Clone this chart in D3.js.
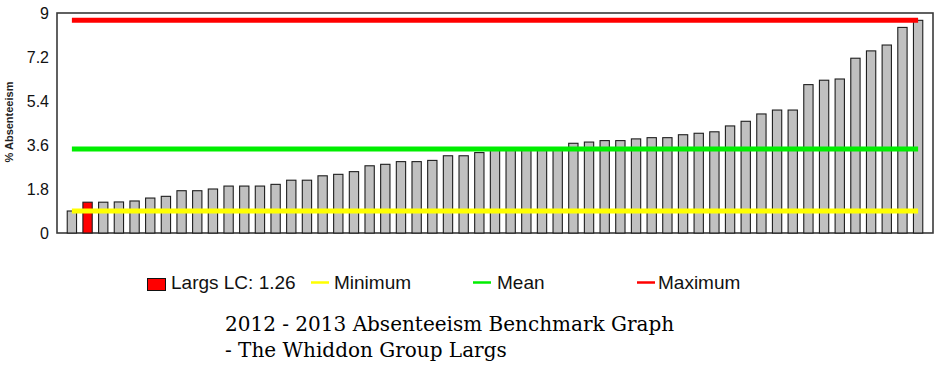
<!DOCTYPE html>
<html>
<head>
<meta charset="utf-8">
<script src="https://cdn.jsdelivr.net/npm/d3@7"></script>
<style>
  html, body { margin: 0; padding: 0; background: #fff; }
  svg { display: block; }
</style>
</head>
<body>
<svg id="chart" width="944" height="365"></svg>
<script>
// ---- data ----
const categories = d3.range(1, 56).map(i => "Org " + i);
const values = [
  0.90, 1.26, 1.26, 1.27, 1.31, 1.43, 1.50, 1.73, 1.73, 1.80,
  1.92, 1.92, 1.92, 1.99, 2.16, 2.16, 2.34, 2.40, 2.51, 2.75,
  2.81, 2.92, 2.92, 2.97, 3.16, 3.16, 3.29, 3.40, 3.42, 3.44,
  3.46, 3.48, 3.67, 3.72, 3.78, 3.78, 3.85, 3.90, 3.90, 4.02,
  4.08, 4.14, 4.38, 4.57, 4.87, 5.03, 5.03, 6.07, 6.25, 6.30,
  7.15, 7.45, 7.69, 8.41, 8.70
];
const highlightIndex = 1;           // Largs LC
const highlightLabel = "Largs LC: 1.26";
const minimumValue = 0.90;
const meanValue = 3.44;
const maximumValue = 8.70;
const yTicks = [0, 1.8, 3.6, 5.4, 7.2, 9];
const yLabel = "% Absenteeism";
const legendLabels = ["Minimum", "Mean", "Maximum"];
const titleLines = ["2012 - 2013 Absenteeism Benchmark Graph", "- The Whiddon Group Largs"];

// ---- layout ----
const svg = d3.select("#chart");
const plot = { left: 57, right: 933, top: 13, bottom: 233 };

const x = d3.scaleBand()
  .domain(categories)
  .range([plot.left, plot.right])
  .paddingInner(0.406)
  .paddingOuter(0.653);

const y = d3.scaleLinear().domain([0, 9]).range([plot.bottom, plot.top]);

// frame
svg.append("rect")
  .attr("x", plot.left).attr("y", plot.top)
  .attr("width", plot.right - plot.left).attr("height", plot.bottom - plot.top)
  .attr("fill", "none").attr("stroke", "#3a3a3a").attr("stroke-width", 1.6);

// bars
svg.append("g").selectAll("rect")
  .data(values)
  .join("rect")
  .attr("x", (d, i) => x(categories[i]))
  .attr("y", d => y(d))
  .attr("width", x.bandwidth())
  .attr("height", d => y(0) - y(d))
  .attr("fill", (d, i) => i === highlightIndex ? "#ff0000" : "#c0c0c0")
  .attr("stroke", "#1e1e1e")
  .attr("stroke-width", 1.1);

// reference lines
const x0 = x(categories[0]) + x.bandwidth() / 2;
const x1 = x(categories[categories.length - 1]) + x.bandwidth() / 2;
const refLines = [
  { v: minimumValue, color: "#ffff00" },
  { v: meanValue, color: "#00ee00" },
  { v: maximumValue, color: "#ff0000" }
];
svg.append("g").selectAll("line")
  .data(refLines)
  .join("line")
  .attr("x1", x0).attr("x2", x1)
  .attr("y1", d => y(d.v)).attr("y2", d => y(d.v))
  .attr("stroke", d => d.color)
  .attr("stroke-width", 5);

// y axis
const yAxis = svg.append("g")
  .attr("transform", `translate(${plot.left},0)`)
  .call(d3.axisLeft(y).tickValues(yTicks).tickSize(0).tickPadding(8)
        .tickFormat(d => String(d)));
yAxis.select(".domain").remove();
yAxis.selectAll("text")
  .attr("font-family", "Liberation Sans, Arial, sans-serif")
  .attr("font-size", 16)
  .attr("fill", "#111");

// y label
svg.append("text")
  .attr("transform", "translate(13,122) rotate(-90)")
  .attr("text-anchor", "middle")
  .attr("font-family", "Liberation Sans, Arial, sans-serif")
  .attr("font-size", 11)
  .attr("font-weight", "bold")
  .attr("fill", "#222")
  .text(yLabel);

// legend
const legend = svg.append("g")
  .attr("font-family", "Liberation Sans, Arial, sans-serif")
  .attr("font-size", 19)
  .attr("fill", "#111");
legend.append("rect")
  .attr("x", 147.5).attr("y", 278.5).attr("width", 18).attr("height", 12)
  .attr("fill", "#ff0000").attr("stroke", "#111").attr("stroke-width", 1);
legend.append("text").attr("x", 171).attr("y", 289).text(highlightLabel);

const legendItems = [
  { label: legendLabels[0], color: "#ffff00", lx: 311, tx: 334 },
  { label: legendLabels[1], color: "#00ee00", lx: 473, tx: 497 },
  { label: legendLabels[2], color: "#ff0000", lx: 637, tx: 658 }
];
legendItems.forEach(it => {
  legend.append("line")
    .attr("x1", it.lx).attr("x2", it.lx + 18)
    .attr("y1", 282.5).attr("y2", 282.5)
    .attr("stroke", it.color).attr("stroke-width", 2.5);
  legend.append("text").attr("x", it.tx).attr("y", 289).text(it.label);
});

// title
svg.append("g")
  .attr("font-family", "DejaVu Serif, serif")
  .attr("font-size", 20)
  .attr("fill", "#000")
  .selectAll("text")
  .data(titleLines)
  .join("text")
  .attr("x", 225)
  .attr("y", (d, i) => 331 + i * 26)
  .text(d => d);
</script>
</body>
</html>
